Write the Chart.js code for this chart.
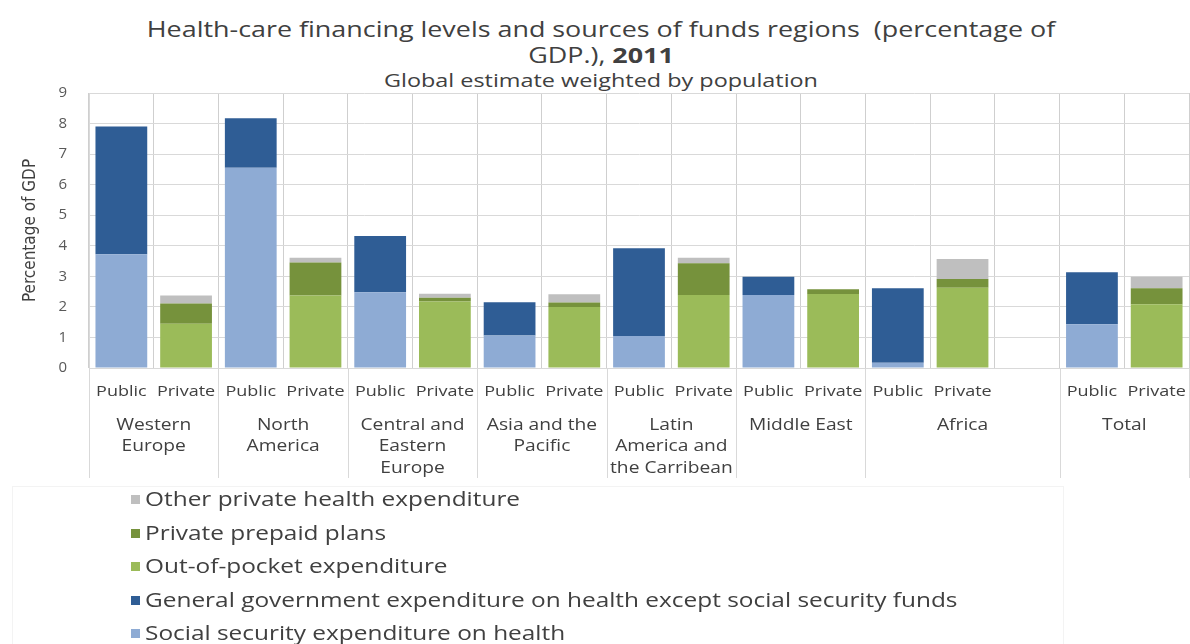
<!DOCTYPE html>
<html>
<head>
<meta charset="utf-8">
<title>Health-care financing levels</title>
<script src="https://cdn.jsdelivr.net/npm/chart.js@4.4.1/dist/chart.umd.min.js"></script>
<style>
  body { margin: 0; background: #fff; }
  #wrap { position: relative; width: 1190px; height: 644px; overflow: hidden;
          font-family: 'Open Sans', sans-serif; color: #404040; }
  #chart { position: absolute; left: 0; top: 0; }
  .ttl { position: absolute; left: 6px; width: 1190px; text-align: center; white-space: nowrap;
         line-height: 1.3; transform-origin: 595px 0; }
  #legendFrame { position: absolute; left: 12px; top: 486px; width: 1050px; height: 170px;
                 border: 1px solid #f3f3f3; }
  #legend { position: absolute; left: 131px; top: 482px; font-size: 20px; }
  #legend .item { height: 33.5px; line-height: 33.5px; white-space: nowrap; }
  #legend .box { display: inline-block; width: 9px; height: 9px; margin-right: 5px; vertical-align: middle; position: relative; top: -1px; }
  #legend .txt { display: inline-block; transform: scaleX(1.22); transform-origin: 0 50%; }
</style>
</head>
<body>
<div id="wrap">
  <div class="ttl" style="top:16px;font-size:21px;transform:scaleX(1.28)">Health-care financing levels and sources of funds regions&nbsp; (percentage of</div>
  <div class="ttl" style="top:42px;font-size:21px;transform:scaleX(1.28)">GDP.), <b>2011</b></div>
  <div class="ttl" style="top:69px;font-size:18px;transform:scaleX(1.3)">Global estimate weighted by population</div>
  <div id="legendFrame"></div>
  <canvas id="chart" width="1190" height="644"></canvas>
  <div id="legend"></div>
</div>
<script>
// columns: a Public and a Private bar per region, one blank slot after Africa
const categories = ['Public', 'Private', 'Public', 'Private', 'Public', 'Private', 'Public', 'Private',
  'Public', 'Private', 'Public', 'Private', 'Public', 'Private', '', 'Public', 'Private'];
const regions = [['Western', 'Europe'], ['North', 'America'], ['Central and', 'Eastern', 'Europe'],
  ['Asia and the', 'Pacific'], ['Latin', 'America and', 'the Carribean'], ['Middle East'], ['Africa'], ['Total']];
const regionSpans = [2, 2, 2, 2, 2, 2, 3, 2];

// percentage of GDP
const socialSecurity = [3.72, null, 6.55, null, 2.48, null, 1.06, null, 1.05, null, 2.39, null, 0.17, null, null, 1.43, null];
const generalGovernment = [4.18, null, 1.62, null, 1.84, null, 1.09, null, 2.87, null, 0.6, null, 2.44, null, null, 1.7, null];
const outOfPocket = [null, 1.45, null, 2.37, null, 2.18, null, 2.0, null, 2.39, null, 2.42, null, 2.63, null, null, 2.09];
const prepaidPlans = [null, 0.66, null, 1.08, null, 0.12, null, 0.14, null, 1.04, null, 0.16, null, 0.28, null, null, 0.52];
const otherPrivate = [null, 0.26, null, 0.16, null, 0.13, null, 0.27, null, 0.18, null, 0, null, 0.66, null, null, 0.38];

const yMin = 0, yMax = 9, yStep = 1;

const textColor = '#404040';
const gridColor = '#d9d9d9';

// draw text widened a little, like the rest of the labels
function wideText(ctx, text, x, y) {
  ctx.save();
  ctx.translate(x, y);
  ctx.scale(1.2, 1);
  ctx.fillText(text, 0, 0);
  ctx.restore();
}

// two-level category axis: Public/Private row, then region names with separators
const categoryAxis = {
  id: 'categoryAxis',
  afterDraw(chart) {
    const ctx = chart.ctx;
    const xs = chart.scales.x;
    const area = chart.chartArea;
    const half = (xs.getPixelForValue(1) - xs.getPixelForValue(0)) / 2;
    ctx.save();
    ctx.fillStyle = textColor;
    ctx.textAlign = 'center';
    ctx.textBaseline = 'middle';
    ctx.font = '15px "Open Sans"';
    categories.forEach((c, i) => {
      if (c) wideText(ctx, c, xs.getPixelForValue(i), area.bottom + 24);
    });

    ctx.strokeStyle = gridColor;
    ctx.lineWidth = 1;
    ctx.font = '16px "Open Sans"';
    let start = 0;
    const edges = [xs.getPixelForValue(0) - half];
    regions.forEach((lines, g) => {
      const end = start + regionSpans[g] - 1;
      const left = xs.getPixelForValue(start) - half;
      const right = xs.getPixelForValue(end) + half;
      edges.push(right);
      lines.forEach((line, k) => wideText(ctx, line, (left + right) / 2, area.bottom + 57 + k * 21.5));
      start = end + 1;
    });
    edges.forEach(e => {
      const px = Math.round(e) + 0.5;
      ctx.beginPath();
      ctx.moveTo(px, area.bottom);
      ctx.lineTo(px, area.bottom + 110);
      ctx.stroke();
    });
    ctx.restore();
  }
};

const chart = new Chart(document.getElementById('chart'), {
  type: 'bar',
  data: {
    labels: categories,
    datasets: [
      { label: 'Social security expenditure on health', data: socialSecurity, backgroundColor: '#8eabd4' },
      { label: 'General government expenditure on health except social security funds', data: generalGovernment, backgroundColor: '#2f5d95' },
      { label: 'Out-of-pocket expenditure', data: outOfPocket, backgroundColor: '#9bbb59' },
      { label: 'Private prepaid plans', data: prepaidPlans, backgroundColor: '#76923c' },
      { label: 'Other private health expenditure', data: otherPrivate, backgroundColor: '#bfbfbf' }
    ]
  },
  options: {
    responsive: false,
    animation: false,
    barPercentage: 0.8,
    categoryPercentage: 1.0,
    layout: { padding: { top: 93, right: 1, bottom: 166, left: 0 } },
    plugins: {
      legend: { display: false },
      tooltip: { enabled: false }
    },
    scales: {
      x: {
        stacked: true,
        grid: { color: '#cfcfcf', offset: true, drawTicks: false },
        border: { color: gridColor },
        ticks: { display: false },
        afterFit(scale) { scale.height = 110; }
      },
      y: {
        stacked: true,
        min: yMin,
        max: yMax,
        grid: { color: gridColor, drawTicks: false },
        border: { color: gridColor },
        ticks: { stepSize: yStep, padding: 22, color: '#595959', font: { family: 'Open Sans', size: 15 } },
        title: {
          display: true,
          text: 'Percentage of GDP',
          color: textColor,
          font: { family: "'Liberation Sans Narrow', 'DejaVu Sans Condensed', sans-serif", size: 17 },
          padding: { top: 20, bottom: 0 }
        },
        afterFit(scale) { scale.width = 89; }
      }
    }
  },
  plugins: [categoryAxis]
});

// legend listed top to bottom in reverse stacking order
const legendEl = document.getElementById('legend');
chart.data.datasets.slice().reverse().forEach(ds => {
  const item = document.createElement('div');
  item.className = 'item';
  const box = document.createElement('span');
  box.className = 'box';
  box.style.background = ds.backgroundColor;
  const txt = document.createElement('span');
  txt.className = 'txt';
  txt.textContent = ds.label;
  item.appendChild(box);
  item.appendChild(txt);
  legendEl.appendChild(item);
});
</script>
</body>
</html>
